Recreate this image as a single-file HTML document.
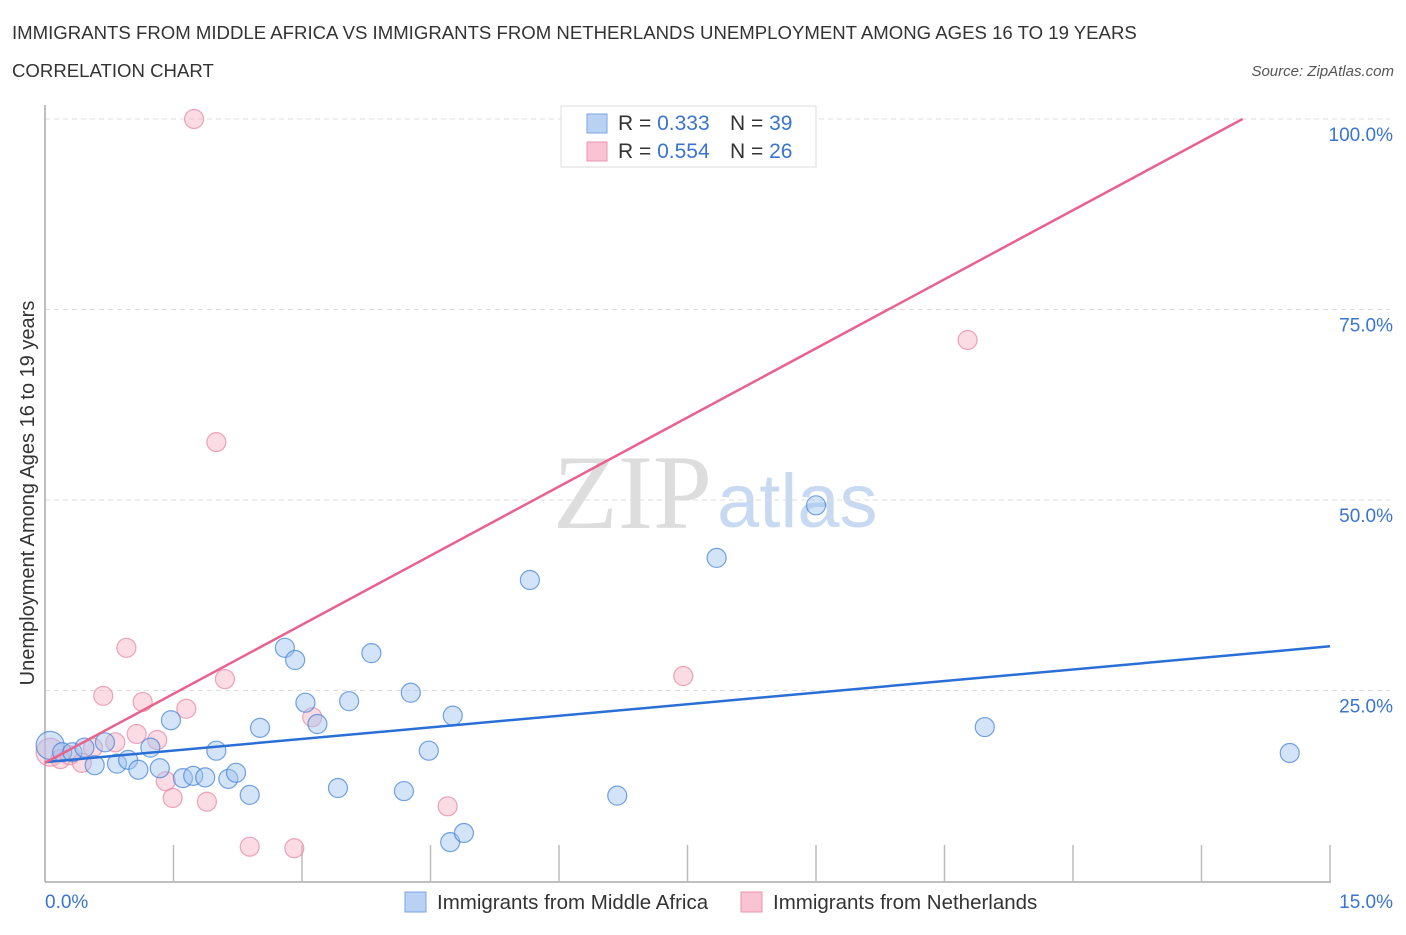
<!DOCTYPE html>
<html><head><meta charset="utf-8"><style>
body{margin:0;background:#fff;width:1406px;height:930px;overflow:hidden;font-family:"Liberation Sans",sans-serif}
</style></head><body>
<svg width="1406" height="930" xmlns="http://www.w3.org/2000/svg">
<text x="12" y="39" font-size="18.6" fill="#333">IMMIGRANTS FROM MIDDLE AFRICA VS IMMIGRANTS FROM NETHERLANDS UNEMPLOYMENT AMONG AGES 16 TO 19 YEARS</text>
<text x="12" y="77" font-size="18.6" fill="#333">CORRELATION CHART</text>
<text x="1394" y="76" font-size="15" fill="#555" font-style="italic" text-anchor="end">Source: ZipAtlas.com</text>
<text x="34" y="493" font-size="20" fill="#333" text-anchor="middle" transform="rotate(-90 34 493)">Unemployment Among Ages 16 to 19 years</text>
<g><text x="553" y="528" font-size="106" fill="#ddd" font-family="Liberation Serif,serif">ZIP</text><text x="717" y="527" font-size="76" fill="#c8daf2">atlas</text></g>
<g id="grid"></g><g id="marks"></g>
<g>
<rect x="561" y="106" width="255" height="61" fill="#fff" stroke="#ddd"/>
<rect x="587" y="114" width="20" height="19" fill="#b9d2f3" stroke="#7ba6e0"/>
<rect x="587" y="142" width="20" height="19" fill="#f9c3d3" stroke="#e996b0"/>
<text x="618" y="130" font-size="21" fill="#333">R = <tspan fill="#3a74d0">0.333</tspan><tspan x="730">N = </tspan><tspan fill="#3a74d0">39</tspan></text>
<text x="618" y="158" font-size="21" fill="#333">R = <tspan fill="#3a74d0">0.554</tspan><tspan x="730">N = </tspan><tspan fill="#3a74d0">26</tspan></text>
</g>
<g>
<rect x="405" y="892" width="21" height="20" fill="#b9d2f3" stroke="#7ba6e0"/>
<text x="437" y="909" font-size="20.5" fill="#333">Immigrants from Middle Africa</text>
<rect x="741" y="892" width="21" height="20" fill="#f9c3d3" stroke="#e996b0"/>
<text x="773" y="909" font-size="20.5" fill="#333">Immigrants from Netherlands</text>
</g>
</svg>
<script>
const blueX=[0.06,0.20,0.32,0.46,0.58,0.70,0.84,0.97,1.09,1.23,1.34,1.47,1.61,1.73,1.87,2.00,2.14,2.23,2.39,2.51,2.80,2.92,3.04,3.18,3.42,3.55,3.81,4.19,4.27,4.48,4.73,4.89,4.76,5.66,6.68,7.84,9.00,10.97,14.53];
const blueY=[17.8,16.9,16.9,17.5,15.2,18.2,15.4,15.9,14.6,17.5,14.8,21.1,13.5,13.8,13.6,17.1,13.4,14.2,11.3,20.1,30.6,29.0,23.4,20.6,12.2,23.6,29.9,11.8,24.7,17.1,5.1,6.3,21.7,39.5,11.2,42.4,49.3,20.2,16.8];
const pinkX=[0.06,0.18,0.29,0.43,0.56,0.68,0.82,0.95,1.07,1.14,1.31,1.41,1.49,1.65,1.74,1.89,2.00,2.10,2.39,2.91,3.12,4.70,6.48,7.32,7.45,10.77];
const pinkY=[16.9,16.0,16.5,15.5,17.5,24.3,18.2,30.6,19.3,23.5,18.5,13.1,10.9,22.6,100,10.4,57.6,26.5,4.5,4.3,21.5,9.8,100,100,26.9,71.0];
const blueLine=[15.6,30.8];
const pinkLine=[15.5,100];const pinkLineEndX=13.98;
const xTicks=["0.0%","15.0%"];
const yTickVals=[25,50,75,100];
const yTickLabels=["25.0%","50.0%","75.0%","100.0%"];
const NS="http://www.w3.org/2000/svg";
const X=v=>45+v/15*1285, Y=v=>881-v*7.62;
function mk(tag,at,parent){const e=document.createElementNS(NS,tag);for(const k in at)e.setAttribute(k,at[k]);parent.appendChild(e);return e;}
const g=document.getElementById('grid'),m=document.getElementById('marks');
yTickVals.forEach((v,i)=>{
 const l=mk('line',{x1:45,x2:1390,y1:Y(v),y2:Y(v),stroke:'#ddd','stroke-dasharray':'5,4'},g);
 
 
 const t=mk('text',{x:1393,y:Y(v)+22,'font-size':19,fill:'#3a74d0','text-anchor':'end'},g);t.textContent=yTickLabels[i];
 
 
});
const ax=mk('line',{x1:45,x2:45,y1:105,y2:882,stroke:'#aaa','stroke-width':1.5},g);


const bx=mk('line',{x1:45,x2:1331,y1:882,y2:882,stroke:'#aaa','stroke-width':1.5},g);


for(let i=1;i<=10;i++){const t=mk('line',{x1:X(i*1.5),x2:X(i*1.5),y1:845,y2:882,stroke:'#bbb','stroke-width':1.5},g);
 
 }
[[0,'start',45],[1,'end',1393]].forEach(([i,a,x])=>{const t=mk('text',{x:x,y:908,'font-size':19,fill:'#3a74d0','text-anchor':a},g);t.textContent=xTicks[i];
 
 });
function pts(xs,ys,fill,stroke,name){xs.forEach((x,i)=>{const c=mk('circle',{cx:X(x),cy:Y(ys[i]),r:i==0?14:9.5,fill:fill,stroke:stroke,'stroke-width':1.2},m);
 
 });}
pts(pinkX,pinkY,'rgba(246,175,196,0.45)','rgba(230,130,160,0.7)','netherlands-point');
pts(blueX,blueY,'rgba(160,195,240,0.45)','rgba(60,125,215,0.7)','middle-africa-point');
const bl=mk('line',{x1:X(0),y1:Y(blueLine[0]),x2:X(15),y2:Y(blueLine[1]),stroke:'#2a6fd6','stroke-width':2.5},m);


const pl=mk('line',{x1:X(0),y1:Y(pinkLine[0]),x2:X(pinkLineEndX),y2:Y(pinkLine[1]),stroke:'#e8628e','stroke-width':2.5},m);


</script>
</body></html>
